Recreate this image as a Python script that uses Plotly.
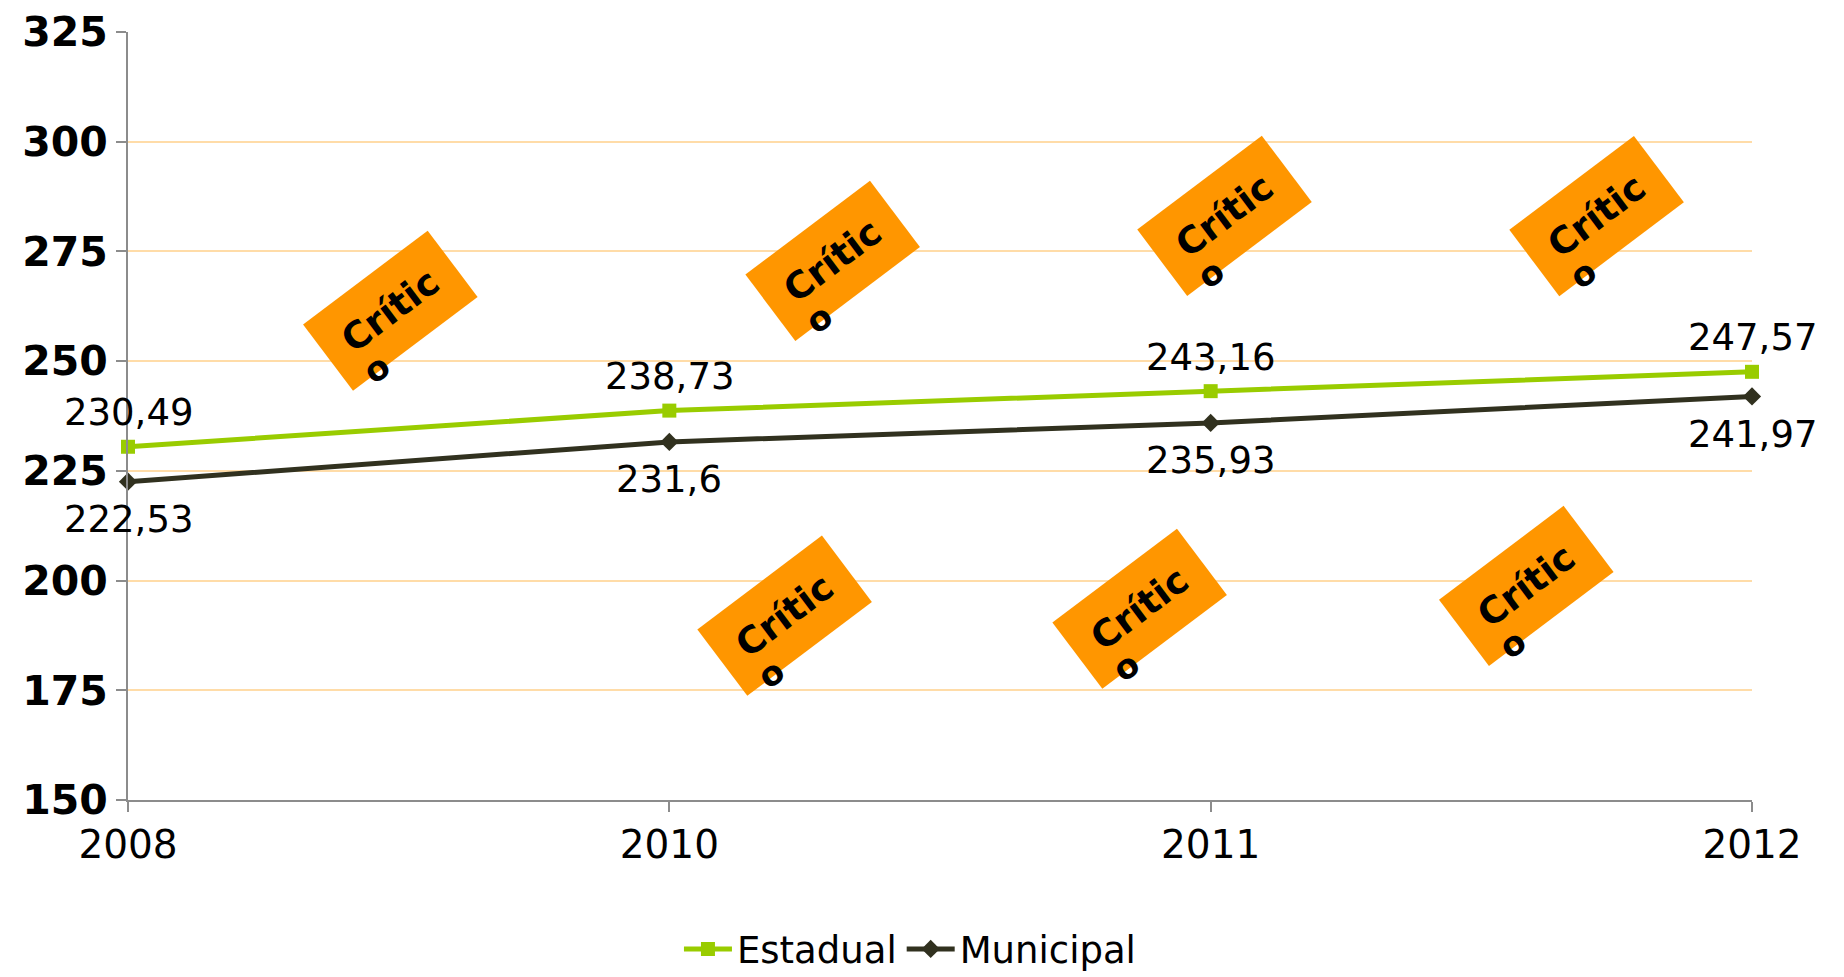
import plotly.graph_objects as go

categories = ["2008", "2010", "2011", "2012"]
estadual = [230.49, 238.73, 243.16, 247.57]
municipal = [222.53, 231.6, 235.93, 241.97]
y_ticks = [150, 175, 200, 225, 250, 275, 300, 325]

# "Crítico" tags (decorative), positions in category-index / value units
tag_x = [0.46, 1.277, 2.001, 2.689, 1.188, 1.844, 2.559]
tag_y = [247.5, 259.0, 269.2, 269.2, 178.1, 179.7, 184.8]
tag_text = "Crític"
tag_tail = "o"

FONT = "DejaVu Sans"
GREEN = "#99CC00"
DARK = "#31311F"
ORANGE = "#FF9600"


def fmt(v):
    s = ("%.2f" % v).rstrip("0").rstrip(".")
    return s.replace(".", ",")


fig = go.Figure()
fig.add_trace(go.Scatter(
    x=categories, y=estadual, name="Estadual", mode="lines+markers",
    line=dict(color=GREEN, width=5), marker=dict(symbol="square", size=14, color=GREEN),
    cliponaxis=False,
))
fig.add_trace(go.Scatter(
    x=categories, y=municipal, name="Municipal", mode="lines+markers",
    line=dict(color=DARK, width=5), marker=dict(symbol="diamond", size=14, color=DARK),
    cliponaxis=False,
))

annotations = []
# data labels (category index used for x)
for i, v in enumerate(estadual):
    annotations.append(dict(x=i, y=v, xref="x", yref="y", text=fmt(v), showarrow=False,
                            yshift=34, font=dict(family=FONT, size=37, color="#000000")))
for i, v in enumerate(municipal):
    annotations.append(dict(x=i, y=v, xref="x", yref="y", text=fmt(v), showarrow=False,
                            yshift=-38, font=dict(family=FONT, size=37, color="#000000")))
# tags
for tx, ty in zip(tag_x, tag_y):
    annotations.append(dict(
        x=tx, y=ty, xref="x", yref="y", text="<b>%s</b>" % tag_text, showarrow=False,
        textangle=-37, bgcolor=ORANGE, width=117, height=44, borderpad=19,
        xshift=13, yshift=61, font=dict(family=FONT, size=37, color="#000000"),
    ))
for tx, ty in zip(tag_x, tag_y):
    annotations.append(dict(
        x=tx, y=ty, xref="x", yref="y", text="<b>%s</b>" % tag_tail, showarrow=False,
        textangle=-37, font=dict(family=FONT, size=34, color="#000000"), yshift=3, xshift=-1,
    ))

fig.update_layout(
    width=1844, height=977,
    margin=dict(l=120, r=100, t=24, b=184.5, autoexpand=False),
    paper_bgcolor="white", plot_bgcolor="white",
    font=dict(family=FONT, color="#000000"),
    showlegend=True,
    legend=dict(orientation="h", x=0.4815, xanchor="center", y=-0.1945, yanchor="middle",
                font=dict(family=FONT, size=37), itemwidth=48, tracegroupgap=0),
    annotations=annotations,
)
fig.update_xaxes(
    type="category", range=[0, 3], showgrid=False, automargin=False,
    showline=True, linecolor="#8C8C8C", linewidth=2,
    ticks="outside", ticklen=10, tickcolor="#8C8C8C", tickwidth=2,
    tickfont=dict(family=FONT, size=39, color="#000000"), ticklabelstandoff=-1,
)
fig.update_yaxes(
    range=[150, 325], tickvals=y_ticks, showgrid=True, gridcolor="#FFDCA8", gridwidth=2,
    showline=True, linecolor="#8C8C8C", linewidth=2, zeroline=False, automargin=False,
    ticks="outside", ticklen=10, tickcolor="#8C8C8C", tickwidth=2,
    tickfont=dict(family=FONT, size=41, color="#000000", weight="bold"), ticklabelstandoff=0,
)

fig.write_html("out.html")
